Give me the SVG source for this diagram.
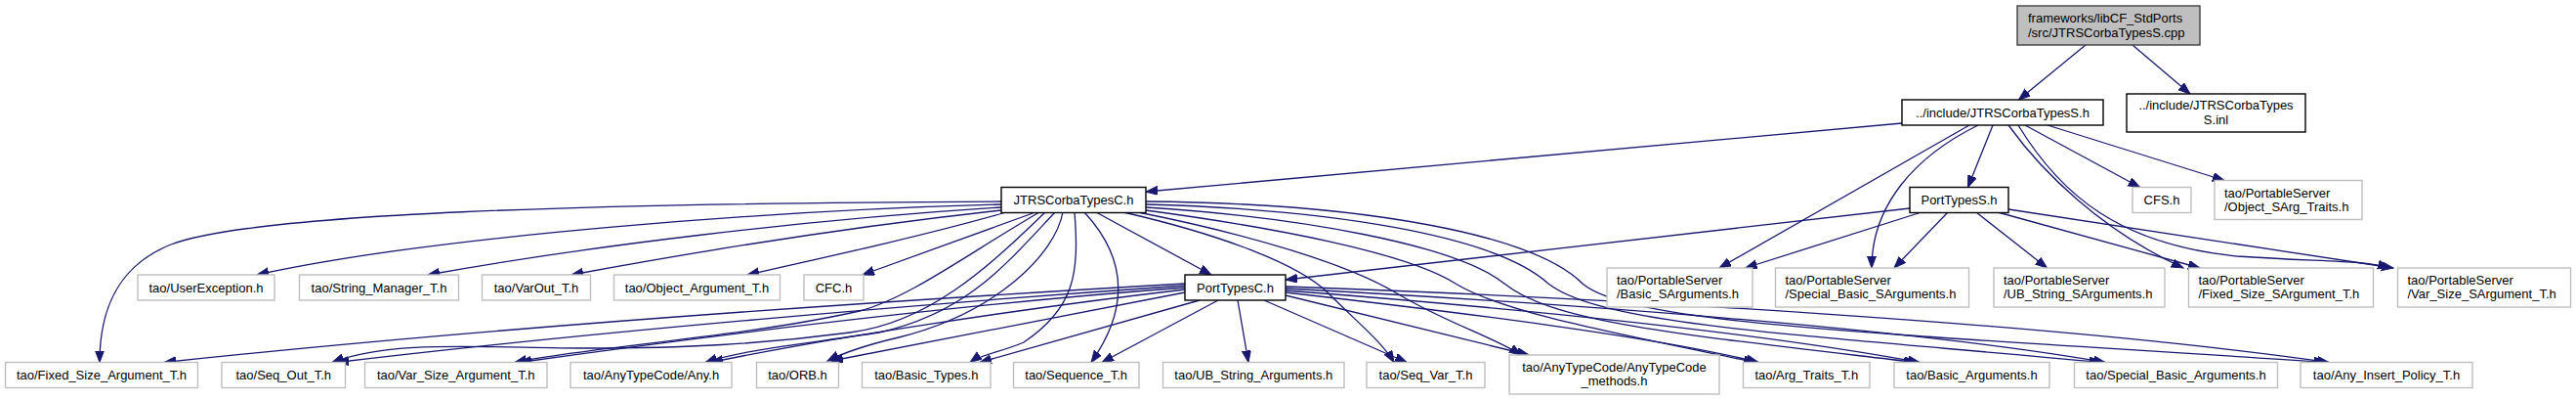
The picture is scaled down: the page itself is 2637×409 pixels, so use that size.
<svg xmlns="http://www.w3.org/2000/svg" width="2637" height="409" viewBox="0 0 2637 409">
<style>
text{font-family:"Liberation Sans",Arial,sans-serif;font-size:13px;fill:#000}
.c{text-anchor:middle}
.n rect{fill:#fff;stroke:#bfbfbf;stroke-width:1.4}
.n.d rect{stroke:#000}
.n.r rect{fill:#bfbfbf;stroke:#404040}
#edges path{fill:none;stroke:#191970;stroke-width:1.3;marker-end:url(#ah)}
</style>
<defs>
<marker id="ah" markerWidth="14" markerHeight="10" refX="12" refY="4.5" orient="auto" markerUnits="userSpaceOnUse"><path d="M0,0 L12,4.5 L0,9 z" fill="#191970" stroke="#191970" stroke-width="1"/></marker>
</defs>
<rect width="2637" height="409" fill="#fff"/>
<g id="edges">
<path d="M2135,46 L2066.5,102"/>
<path d="M2183,46 L2242,96"/>
<path d="M1947,126 L1173,196"/>
<path d="M2040,128 L2014.5,191.5"/>
<path d="M2073,128 L2190.6,191.5"/>
<path d="M2096,128 L2277,184.5"/>
<path d="M2016,128 L1760,274"/>
<path d="M2025,128 C1960,160 1916,210 1916,274"/>
<path d="M2056,128 C2090,175 2150,235 2235,274"/>
<path d="M2066,128 C2110,200 2170,250 2290,262 C2380,268 2420,266 2446,274"/>
<path d="M1955,213 L1316,286"/>
<path d="M1967,217 L1786.7,274"/>
<path d="M1994,217 L1939,274"/>
<path d="M2023,217 L2095.6,274"/>
<path d="M2045,217 L2252,274"/>
<path d="M2056,214 L2450,274"/>
<path d="M1025,206 C600,208 260,218 175,250 C125,270 102,310 102,370.5"/>
<path d="M1025,209 C800,215 450,240 263,281"/>
<path d="M1025,212 C820,225 600,252 438,281"/>
<path d="M1025,215 C870,232 720,256 585,281"/>
<path d="M1030,217 C950,240 850,262 765,281"/>
<path d="M1060,217 L883,281"/>
<path d="M1122,217 L1240,281"/>
<path d="M1070,217 C1010,275 950,330 870,340 C780,352 700,356 600,356 C480,355 400,348 340,370.5"/>
<path d="M1064,217 C990,260 930,305 880,318 C760,345 600,355 527,370.5"/>
<path d="M1080,217 C1030,270 990,320 900,340 C820,352 760,358 722,370.5"/>
<path d="M1088,217 C1080,260 1020,320 920,345 C890,352 865,360 847,369"/>
<path d="M1100,217 C1105,280 1100,315 1048,350 C1025,360 1005,362 993,370.5"/>
<path d="M1110,217 C1150,260 1160,310 1117,370.5"/>
<path d="M1150,217 C1250,240 1330,270 1360,300 C1390,330 1415,350 1427,370.5"/>
<path d="M1165,217 C1280,240 1380,270 1430,300 C1480,330 1530,345 1557,363"/>
<path d="M1173,215 C1300,232 1440,258 1490,290 C1540,320 1650,340 1797,370.5"/>
<path d="M1173,212 C1330,222 1490,250 1540,290 C1590,330 1720,342 1961,370.5"/>
<path d="M1173,209 C1360,214 1530,240 1585,290 C1640,332 1820,340 2151,370.5"/>
<path d="M1173,206 C1400,208 1570,240 1620,290 C1670,332 1920,340 2381,370.5"/>
<path d="M1213,290 C900,308 500,335 168,370.5"/>
<path d="M1213,292 C950,310 600,340 345,370.5"/>
<path d="M1213,294 C1000,310 750,340 532,370.5"/>
<path d="M1213,296 C1050,315 850,345 728,370.5"/>
<path d="M1213,299 L851,369"/>
<path d="M1228,307 L1003,370.5"/>
<path d="M1247,307 L1128,370.5"/>
<path d="M1267,307 L1278,370.5"/>
<path d="M1294,307 L1440,370.5"/>
<path d="M1316,302 L1565,363"/>
<path d="M1316,299 C1500,320 1700,345 1800,370.5"/>
<path d="M1316,297 C1550,315 1800,340 1965,370.5"/>
<path d="M1316,295 C1600,310 1950,335 2155,370.5"/>
<path d="M1316,293 C1650,305 2100,330 2384,370.5"/>
</g>
<g id="n_root" class="n r"><rect x="2065" y="6" width="187" height="40"/><text x="2076" y="23">frameworks/libCF_StdPorts</text><text x="2076" y="38">/src/JTRSCorbaTypesS.cpp</text></g>
<g id="n_sh" class="n d"><rect x="1947" y="102" width="206" height="26"/><text class="c" x="2050" y="119.5">../include/JTRSCorbaTypesS.h</text></g>
<g id="n_sinl" class="n d"><rect x="2177" y="96" width="183" height="39"/><text class="c" x="2268.5" y="112">../include/JTRSCorbaTypes</text><text class="c" x="2268.5" y="127">S.inl</text></g>
<g id="n_ch" class="n d"><rect x="1025" y="191.5" width="148" height="26"/><text class="c" x="1099" y="209">JTRSCorbaTypesC.h</text></g>
<g id="n_pts" class="n d"><rect x="1955" y="191.5" width="101" height="26"/><text class="c" x="2005.5" y="209">PortTypesS.h</text></g>
<g id="n_cfs" class="n"><rect x="2183" y="191.5" width="60" height="26"/><text class="c" x="2213" y="209">CFS.h</text></g>
<g id="n_osat" class="n"><rect x="2267" y="184.5" width="151" height="40"/><text x="2277" y="202">tao/PortableServer</text><text x="2277" y="216">/Object_SArg_Traits.h</text></g>
<g id="n_ue" class="n"><rect x="141" y="281" width="140" height="26"/><text class="c" x="211" y="298.5">tao/UserException.h</text></g>
<g id="n_smt" class="n"><rect x="306.5" y="281" width="163" height="26"/><text class="c" x="388" y="298.5">tao/String_Manager_T.h</text></g>
<g id="n_vot" class="n"><rect x="493.5" y="281" width="111" height="26"/><text class="c" x="549" y="298.5">tao/VarOut_T.h</text></g>
<g id="n_oat" class="n"><rect x="628.5" y="281" width="170" height="26"/><text class="c" x="713.5" y="298.5">tao/Object_Argument_T.h</text></g>
<g id="n_cfc" class="n"><rect x="823" y="281" width="61" height="26"/><text class="c" x="853.5" y="298.5">CFC.h</text></g>
<g id="n_ptc" class="n d"><rect x="1213" y="281" width="103" height="26"/><text class="c" x="1264.5" y="298.5">PortTypesC.h</text></g>
<g id="n_bsa" class="n"><rect x="1645" y="274" width="149" height="40"/><text x="1655" y="290.5">tao/PortableServer</text><text x="1655" y="304.5">/Basic_SArguments.h</text></g>
<g id="n_sbsa" class="n"><rect x="1817.5" y="274" width="198" height="40"/><text x="1827.5" y="290.5">tao/PortableServer</text><text x="1827.5" y="304.5">/Special_Basic_SArguments.h</text></g>
<g id="n_ubsa" class="n"><rect x="2041" y="274" width="175" height="40"/><text x="2051" y="290.5">tao/PortableServer</text><text x="2051" y="304.5">/UB_String_SArguments.h</text></g>
<g id="n_fssa" class="n"><rect x="2240.5" y="274" width="189" height="40"/><text x="2250.5" y="290.5">tao/PortableServer</text><text x="2250.5" y="304.5">/Fixed_Size_SArgument_T.h</text></g>
<g id="n_vssa" class="n"><rect x="2454.5" y="274" width="177" height="40"/><text x="2464.5" y="290.5">tao/PortableServer</text><text x="2464.5" y="304.5">/Var_Size_SArgument_T.h</text></g>
<g id="n_fsat" class="n"><rect x="5.5" y="370.5" width="197" height="26"/><text class="c" x="104" y="388">tao/Fixed_Size_Argument_T.h</text></g>
<g id="n_sot" class="n"><rect x="227" y="370.5" width="126.5" height="26"/><text class="c" x="290.3" y="388">tao/Seq_Out_T.h</text></g>
<g id="n_vsat" class="n"><rect x="373.5" y="370.5" width="186.5" height="26"/><text class="c" x="466.7" y="388">tao/Var_Size_Argument_T.h</text></g>
<g id="n_any" class="n"><rect x="584" y="370.5" width="165" height="26"/><text class="c" x="666.5" y="388">tao/AnyTypeCode/Any.h</text></g>
<g id="n_orb" class="n"><rect x="774.5" y="370.5" width="84" height="26"/><text class="c" x="816.5" y="388">tao/ORB.h</text></g>
<g id="n_bt" class="n"><rect x="882.5" y="370.5" width="131.5" height="26"/><text class="c" x="948.3" y="388">tao/Basic_Types.h</text></g>
<g id="n_seqt" class="n"><rect x="1037.5" y="370.5" width="128.5" height="26"/><text class="c" x="1101.7" y="388">tao/Sequence_T.h</text></g>
<g id="n_uba" class="n"><rect x="1190.5" y="370.5" width="185.5" height="26"/><text class="c" x="1283.3" y="388">tao/UB_String_Arguments.h</text></g>
<g id="n_svt" class="n"><rect x="1399" y="370.5" width="121" height="26"/><text class="c" x="1459.5" y="388">tao/Seq_Var_T.h</text></g>
<g id="n_atcm" class="n"><rect x="1545" y="363" width="215" height="40"/><text class="c" x="1652.5" y="380">tao/AnyTypeCode/AnyTypeCode</text><text class="c" x="1652.5" y="394">_methods.h</text></g>
<g id="n_att" class="n"><rect x="1784.5" y="370.5" width="129.5" height="26"/><text class="c" x="1849.3" y="388">tao/Arg_Traits_T.h</text></g>
<g id="n_ba" class="n"><rect x="1939" y="370.5" width="159" height="26"/><text class="c" x="2018.5" y="388">tao/Basic_Arguments.h</text></g>
<g id="n_sba" class="n"><rect x="2123.5" y="370.5" width="208" height="26"/><text class="c" x="2227.5" y="388">tao/Special_Basic_Arguments.h</text></g>
<g id="n_aipt" class="n"><rect x="2355" y="370.5" width="176" height="26"/><text class="c" x="2443" y="388">tao/Any_Insert_Policy_T.h</text></g>
</svg>
